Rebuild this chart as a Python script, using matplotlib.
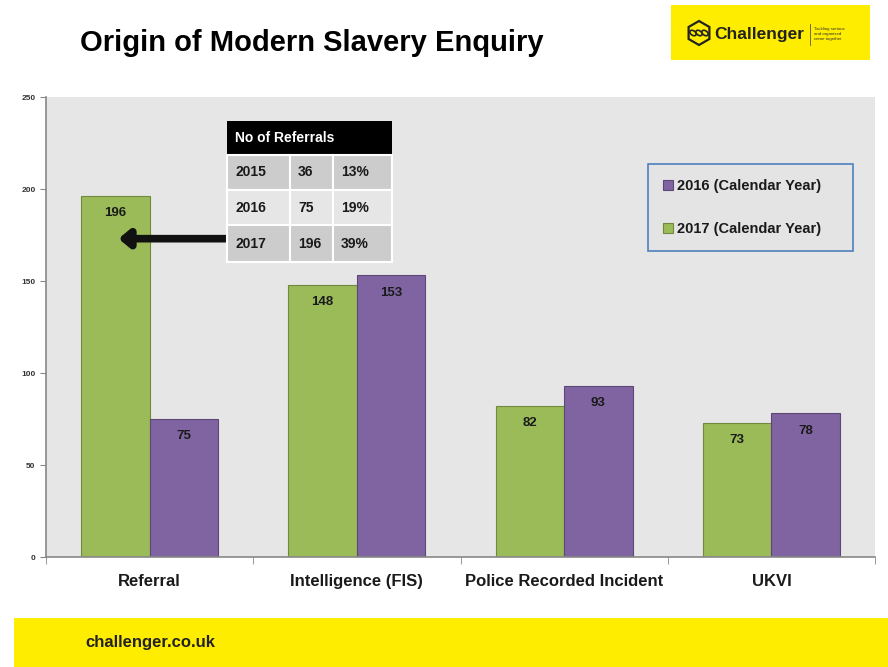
import matplotlib
matplotlib.use("Agg")
import matplotlib.pyplot as plt
import matplotlib.patches as mpatches
import numpy as np

# data
categories = ["Referral", "Intelligence (FIS)", "Police Recorded Incident", "UKVI"]
y2017 = [196, 148, 82, 73]
y2016 = [75, 153, 93, 78]
table_years = ["2015", "2016", "2017"]
table_counts = ["36", "75", "196"]
table_pcts = ["13%", "19%", "39%"]

plt.rcParams['font.family'] = ['Liberation Sans', 'DejaVu Sans']

W, H = 888, 667
fig = plt.figure(figsize=(W / 100, H / 100), dpi=100)
fig.patch.set_facecolor("white")


def fx(px):
    return px / W


def fy(py):
    return 1 - py / H


green = "#9bbb59"
purple = "#8064a2"
yellow = "#ffed00"

# axes spans 46..875 px across, 97..557 px down
ax = fig.add_axes([fx(46), fy(557), fx(875) - fx(46), fy(97) - fy(557)])
ax.set_facecolor("#e6e6e6")

x = np.arange(len(categories))
w = 0.33
b17 = ax.bar(x - w / 2, y2017, w, color=green, edgecolor="#71893f", linewidth=0.8,
             label="2017 (Calendar Year)", zorder=2)
b16 = ax.bar(x + w / 2, y2016, w, color=purple, edgecolor="#5c4776", linewidth=0.8,
             label="2016 (Calendar Year)", zorder=2)

for bars in (b17, b16):
    for r in bars:
        ax.text(r.get_x() + r.get_width() / 2, r.get_height() - 6, str(int(r.get_height())),
                ha="center", va="top", fontsize=9.5, fontweight="bold", color="#1a1a1a", zorder=3)

ax.set_xlim(-0.5, len(categories) - 0.5)
ax.set_ylim(0, 250)
ax.set_yticks(range(0, 251, 50))
ax.tick_params(axis="y", labelsize=6, length=4, color="#888888", labelcolor="#333333")
for lab in ax.get_yticklabels():
    lab.set_fontweight("bold")

ax.set_xticks(x)
ax.set_xticklabels(categories, fontsize=12, fontweight="bold", color="#1a1a1a")
ax.tick_params(axis="x", length=0, pad=12)
# category separator ticks
ax.set_xticks(np.arange(-0.5, len(categories), 1), minor=True)
ax.tick_params(axis="x", which="minor", length=5, color="#888888")

for s in ("top", "right"):
    ax.spines[s].set_visible(False)
for s in ("left", "bottom"):
    ax.spines[s].set_color("#888888")
    ax.spines[s].set_linewidth(1.2)

# legend (2016 listed first), box 648..853 x 163..252 px
leg = ax.legend(handles=[b16, b17], loc="center left",
                bbox_to_anchor=((648 - 46) / 829, (557 - 252) / 460, (853 - 648) / 829, (252 - 163) / 460),
                mode="expand", fontsize=10.5, frameon=True, fancybox=False,
                edgecolor="#4f81bd", facecolor="#e4e4e4", framealpha=1,
                handlelength=0.7, handleheight=0.7, handletextpad=0.3,
                labelspacing=2.0, borderpad=1.0, borderaxespad=0)
leg._legend_box.padding = 0
leg.get_frame().set_linewidth(1.2)
for t in leg.get_texts():
    t.set_fontweight("bold")
    t.set_color("#1a1a1a")

# arrow pointing at the Referral bar
ax.annotate("", xy=(-0.15, 173), xytext=(0.385, 173),
            arrowprops=dict(arrowstyle="-|>,head_length=0.6,head_width=0.5", lw=5.5,
                            color="#111111", shrinkA=0, shrinkB=0), zorder=4)

# overlay axes in pixel coordinates for table, title, logo, footer
col_x = [227, 290, 333, 392]
ov = fig.add_axes([0, 0, 1, 1], facecolor="none")
ov.set_xlim(0, W)
ov.set_ylim(H, 0)
ov.axis("off")
ov.add_patch(mpatches.Rectangle((227, 121), 165, 34, facecolor="black", edgecolor="none"))
ov.text(235, 138, "No of Referrals", color="white", fontsize=10, fontweight="bold",
        va="center", ha="left")
row_y = [155, 190, 225, 262]
row_colors = ["#cccccc", "#e6e6e6", "#cccccc"]
for i in range(3):
    for j in range(3):
        ov.add_patch(mpatches.Rectangle((col_x[j], row_y[i]), col_x[j + 1] - col_x[j],
                                        row_y[i + 1] - row_y[i], facecolor=row_colors[i],
                                        edgecolor="white", linewidth=1.5))
    cy = (row_y[i] + row_y[i + 1]) / 2
    vals = [table_years[i], table_counts[i], table_pcts[i]]
    for j, v in enumerate(vals):
        ov.text(col_x[j] + 8, cy, v, fontsize=10, fontweight="bold", color="#1a1a1a",
                va="center", ha="left")

# title
ov.text(80, 43, "Origin of Modern Slavery Enquiry", fontsize=21, fontweight="bold",
        color="black", va="center", ha="left")

# logo box
ov.add_patch(mpatches.Rectangle((671, 5), 199, 55, facecolor=yellow, edgecolor="none"))
ov.add_patch(mpatches.RegularPolygon((699, 33), 6, radius=12, facecolor="none",
                                     edgecolor="#222222", linewidth=1.6))
for cx in (693, 699, 705):
    ov.add_patch(mpatches.Ellipse((cx, 33), 7, 4.5, angle=35, facecolor="none",
                                  edgecolor="#222222", linewidth=1.2))
ov.text(714, 34, "Challenger", fontsize=12.5, fontweight="bold", color="#222222",
        va="center", ha="left")
ov.plot([810, 810], [24, 45], color="#555555", lw=0.6)
ov.text(814, 34, "Tackling serious\nand organised\ncrime together", fontsize=3.2,
        color="#333333", va="center", ha="left", linespacing=1.2)

# footer band
ov.add_patch(mpatches.Rectangle((14, 618), W - 14, 49, facecolor=yellow, edgecolor="none"))
ov.text(85, 643, "challenger.co.uk", fontsize=12, fontweight="bold", color="#222222",
        va="center", ha="left")

fig.savefig("out.png", dpi=100)
